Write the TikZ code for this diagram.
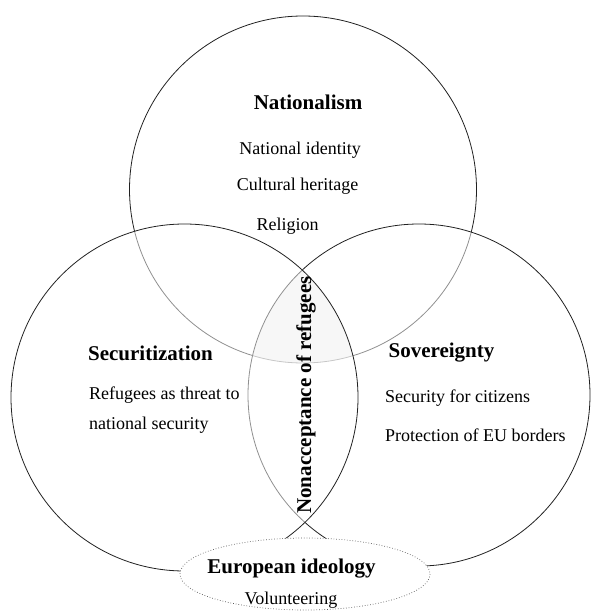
\documentclass[tikz,border=0pt]{standalone}
\usepackage{fontspec}
\setmainfont{Liberation Serif}
\usepackage{tikz}
\usetikzlibrary{positioning}
\definecolor{VennInk}{gray}{0.13}
\definecolor{VennDot}{gray}{0.35}

\begin{document}
\begin{tikzpicture}[x=1pt,y=-1pt,
    ring/.style={draw=VennInk,line width=0.8pt,fill=white,fill opacity=0.5},
    headtxt/.style={inner sep=0pt,font=\fontsize{21}{24}\selectfont\bfseries},
    itemtxt/.style={inner sep=0pt,font=\fontsize{18}{21}\selectfont}]
  \useasboundingbox (0,0) rectangle (590,612);
  \coordinate (natC) at (303,189.5);
  \coordinate (secC) at (184.5,397.5);
  \coordinate (sovC) at (419,395);
  \coordinate (euC) at (305,574);
  % shaded centre where all three meet
  \begin{scope}
    \clip (natC) circle (173.5);
    \clip (sovC) circle (171);
    \fill[black!24] (secC) circle (173.5);
  \end{scope}
  \path[ring] (natC) circle (173.5);
  \path[ring] (sovC) circle (171);
  \path[ring] (secC) circle (173.5);
  \draw[VennDot,dotted,line width=0.7pt,fill=white] (euC) ellipse [x radius=125,y radius=36];

  \node[headtxt] (nat) at (308,102) {Nationalism};
  \node[itemtxt] (natA) at (300,150) {National identity};
  \node[itemtxt] (natB) at (297.5,186) {Cultural heritage};
  \node[itemtxt] (natD) at (287.5,226) {Religion};

  \node[headtxt] (sec) at (150.5,353) {Securitization};
  \node[itemtxt,anchor=west] (secA) at (89,395) {Refugees as threat to};
  \node[itemtxt,anchor=west] (secB) at (89,425) {national security};

  \node[headtxt] (sov) at (441.5,353) {Sovereignty};
  \node[itemtxt,anchor=west] (sovA) at (385,398) {Security for citizens};
  \node[itemtxt,anchor=west] (sovB) at (385,435) {Protection of EU borders};

  \node[headtxt,rotate=90] (nonacc) at (306,395) {Nonacceptance of refugees};

  \node[headtxt] (eu) at (291.5,569) {European ideology};
  \node[itemtxt] (euA) at (291,600) {Volunteering};
\end{tikzpicture}
\end{document}
